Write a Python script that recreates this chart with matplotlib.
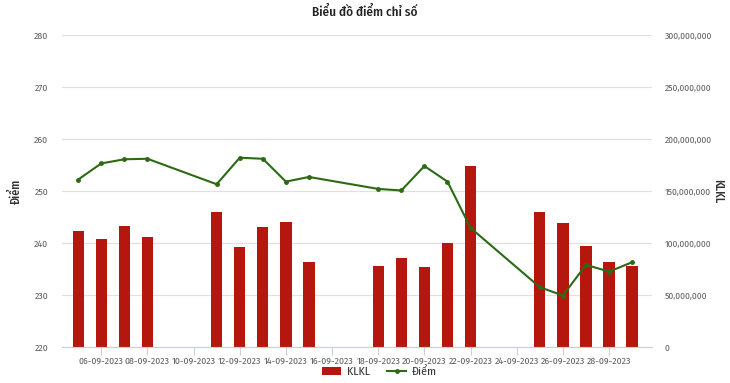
import matplotlib
matplotlib.use("Agg")
import matplotlib.pyplot as plt
from matplotlib.ticker import FuncFormatter, MultipleLocator
from matplotlib.lines import Line2D
from matplotlib.patches import Patch
import numpy as np

plt.rcParams['font.family'] = ['Fira Sans Condensed', 'DejaVu Sans']

# Day index 0 = 05-09-2023 ... 24 = 29-09-2023
days = [5, 6, 7, 8, 11, 12, 13, 14, 15, 18, 19, 20, 21, 22, 25, 26, 27, 28, 29]
klkl = [111.3, 104.2, 116.3, 105.8, 129.5, 96.4, 115.7, 120.2, 81.4, 77.6,
        85.3, 76.9, 100.3, 173.7, 129.5, 119.5, 97.1, 81.4, 78.2]  # millions
diem = [252.2, 255.3, 256.1, 256.2, 251.3, 256.4, 256.2, 251.8, 252.7, 250.4,
        250.1, 254.8, 251.8, 242.9, 231.5, 229.9, 235.8, 234.5, 236.3]
tick_days = [6, 8, 10, 12, 14, 16, 18, 20, 22, 24, 26, 28]
tick_labels = ["%02d-09-2023" % d for d in tick_days]

bar_color = '#b5170f'
line_color = '#2c6a14'
text_color = '#606060'

fig = plt.figure(figsize=(7.3, 3.83), dpi=100)
ax = fig.add_axes([62/730, 1-347/383, (652-62)/730, (347-35)/383])
ax2 = ax.twinx()

x = np.array(days) - 5
ax2.bar(x, np.array(klkl) * 1e6, width=0.49, color=bar_color, zorder=2)
ax2.set_ylim(0, 300e6)
ax2.yaxis.set_major_locator(MultipleLocator(50e6))
ax2.yaxis.set_major_formatter(FuncFormatter(lambda v, p: f"{int(v):,}"))

ax.plot(x, diem, color=line_color, lw=1.5, marker='o', markersize=2.5, zorder=5)
ax.set_ylim(220, 280)
ax.yaxis.set_major_locator(MultipleLocator(10))
ax.set_xlim(-0.7, 24.86)
ax.set_xticks(np.array(tick_days) - 5)
ax.set_xticklabels(tick_labels)

ax.set_zorder(ax2.get_zorder() + 1)
ax.patch.set_visible(False)

ax2.grid(axis='y', color='#e0e0e0', lw=0.9, zorder=0)
ax2.set_axisbelow(True)

for a in (ax, ax2):
    for s in ('top', 'left', 'right'):
        a.spines[s].set_visible(False)
    a.spines['bottom'].set_color('#c8d0dc')
ax2.spines['bottom'].set_visible(False)

ax.tick_params(axis='y', length=0, labelsize=7, labelcolor=text_color, pad=10)
ax2.tick_params(axis='y', length=0, labelsize=6.8, labelcolor=text_color, pad=9)
ax.tick_params(axis='x', length=6, color='#c8d0dc', labelsize=7, labelcolor=text_color, pad=1)

ax.set_ylabel("Điểm", fontsize=8.5, color='#333333', fontweight='medium')
ax.yaxis.set_label_coords((22 - 62) / 590, 0.5)
ax2.set_ylabel("KLKL", fontsize=8.5, color='#333333', fontweight='medium', rotation=270, va='center')
ax2.yaxis.set_label_coords((718 - 62) / 590, 0.5)

fig.text(0.5, 1-12/383, "Biểu đồ điểm chỉ số", ha='center', va='center',
         fontsize=9.5, fontweight='medium', color='#222222')

handles = [Patch(facecolor=bar_color, label='KLKL'),
           Line2D([0], [0], color=line_color, lw=1.5, marker='o', markersize=2.5, label='Điểm')]
fig.legend(handles=handles, loc='center', bbox_to_anchor=(0.52, 1-372/383), ncol=2,
           frameon=False, fontsize=8.5, handlelength=1.6, columnspacing=1.5,
           handletextpad=0.5, labelcolor='#333333')

fig.savefig("out.png", dpi=100)
